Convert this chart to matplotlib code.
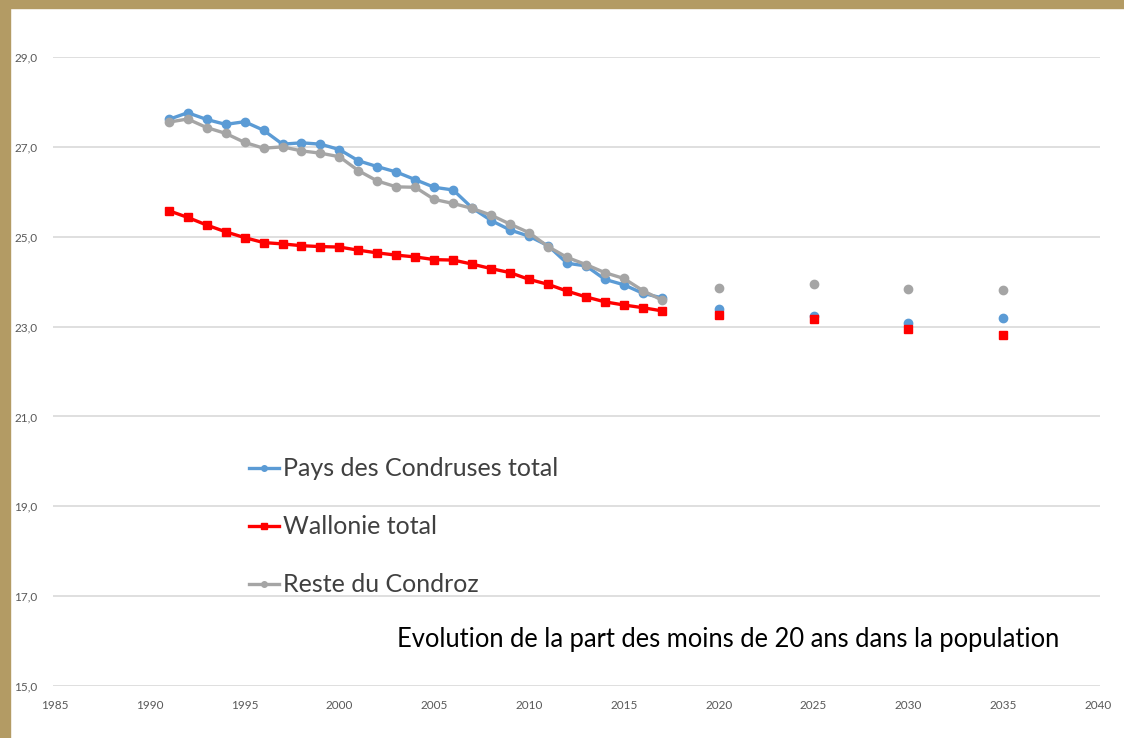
import matplotlib
matplotlib.use("Agg")
import matplotlib.pyplot as plt
from matplotlib.patches import Rectangle
from matplotlib.lines import Line2D

years = list(range(1991, 2018))
pays = [27.61, 27.76, 27.61, 27.50, 27.56, 27.37, 27.06, 27.09, 27.06, 26.94,
        26.69, 26.56, 26.44, 26.27, 26.10, 26.04, 25.64, 25.36, 25.15, 25.01,
        24.80, 24.41, 24.35, 24.05, 23.93, 23.74, 23.64]
wallonie = [25.58, 25.43, 25.26, 25.11, 24.98, 24.87, 24.84, 24.80, 24.78, 24.77,
            24.70, 24.64, 24.59, 24.55, 24.49, 24.48, 24.39, 24.29, 24.20, 24.05,
            23.94, 23.79, 23.66, 23.55, 23.48, 23.42, 23.35]
reste = [27.55, 27.62, 27.43, 27.30, 27.10, 26.97, 27.00, 26.91, 26.86, 26.78,
         26.47, 26.24, 26.11, 26.10, 25.83, 25.74, 25.63, 25.48, 25.28, 25.09,
         24.78, 24.54, 24.38, 24.20, 24.07, 23.80, 23.59]

proj_years = [2020, 2025, 2030, 2035]
pays_proj = [23.39, 23.24, 23.08, 23.19]
wallonie_proj = [23.25, 23.17, 22.94, 22.81]
reste_proj = [23.86, 23.94, 23.84, 23.81]

labels = ["Pays des Condruses total", "Wallonie total", "Reste du Condroz"]
xticks = list(range(1985, 2041, 5))
yticks = [15, 17, 19, 21, 23, 25, 27, 29]

c_blue = "#5B9BD5"
c_red = "#FF0000"
c_grey = "#A5A5A5"

W, H = 1124, 738
fig = plt.figure(figsize=(W / 100, H / 100), dpi=100)
fig.patch.set_facecolor("white")

# frame border (tan)
fig.add_artist(Rectangle((0, 1 - 8 / H), 1, 8 / H, transform=fig.transFigure,
                         color="#B39B64", zorder=0))
fig.add_artist(Rectangle((0, 0), 10 / W, 1, transform=fig.transFigure,
                         color="#B39B64", zorder=0))

ax = fig.add_axes([53 / W, 1 - 686 / H, (1100 - 53) / W, (686 - 57) / H])
ax.set_facecolor("none")
ax.set_xlim(1984.9, 2040.1)
ax.set_ylim(15, 29)
ax.set_xticks(xticks)
ax.set_yticks(yticks)
ax.set_yticklabels([f"{v:.1f}".replace(".", ",") for v in yticks])
ax.grid(axis="y", color="#D9D9D9", lw=1.2)
ax.set_axisbelow(True)
for s in ax.spines.values():
    s.set_visible(False)
ax.tick_params(axis="both", length=0, labelsize=8.5, labelcolor="#595959")
ax.tick_params(axis="x", pad=10)
ax.tick_params(axis="y", pad=28)
for t in ax.get_yticklabels() + ax.get_xticklabels():
    t.set_family("Lato")
for t in ax.get_yticklabels():
    t.set_horizontalalignment("left")

ax.plot(years, pays, color=c_blue, lw=2.4, marker="o", ms=6, clip_on=False, zorder=3)
ax.plot(years, wallonie, color=c_red, lw=2.4, marker="s", ms=6, clip_on=False, zorder=3)
ax.plot(years, reste, color=c_grey, lw=2.4, marker="o", ms=6, clip_on=False, zorder=4)
ax.plot(proj_years, reste_proj, ls="none", color=c_grey, marker="o", ms=6, zorder=3)
ax.plot(proj_years, pays_proj, ls="none", color=c_blue, marker="o", ms=6, zorder=3)
ax.plot(proj_years, wallonie_proj, ls="none", color=c_red, marker="s", ms=6, zorder=4)

h1 = Line2D([], [], color=c_blue, lw=2.4, marker="o", ms=4)
h2 = Line2D([], [], color=c_red, lw=2.4, marker="s", ms=4)
h3 = Line2D([], [], color=c_grey, lw=2.4, marker="o", ms=4)
leg = fig.legend([h1, h2, h3], labels, loc="upper left",
                 bbox_to_anchor=(237 / W, 1 - 445 / H), frameon=False,
                 prop={"family": "Lato", "size": 18}, handlelength=1.2,
                 handletextpad=0.15, labelspacing=1.4, borderpad=0)
for t in leg.get_texts():
    t.set_color("#404040")

fig.text(397 / W, 1 - 640 / H, "Evolution de la part des moins de 20 ans dans la population",
         ha="left", va="center", fontsize=18.4, family="Lato", color="black")

fig.savefig("out.png", dpi=100)
